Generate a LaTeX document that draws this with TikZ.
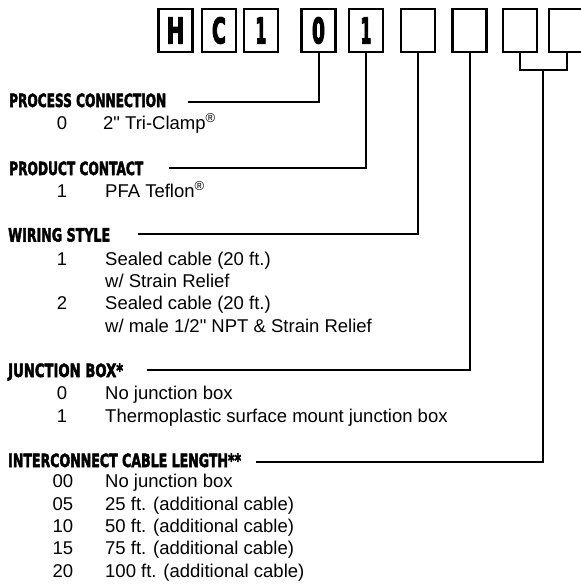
\documentclass[tikz,border=0pt]{standalone}
\usepackage{fontspec}
\usepackage{graphicx}
\setmainfont{Liberation Sans}
\newfontfamily\qfont{Liberation Sans}
\newfontfamily\headfont[FakeBold=3]{DejaVu Sans Bold}
\newfontfamily\boxfont[FakeBold=4]{DejaVu Sans Bold}
\newcommand{\hdrtxt}[2]{\resizebox{#1}{13.5pt}{\headfont #2}}
\newcommand{\boxtxt}[2]{\resizebox{#1}{26pt}{\boxfont #2}}
\newcommand{\qt}{{\qfont"}}
\begin{document}
\begin{tikzpicture}[x=1pt,y=-1pt,
  digitbox/.style={draw, line width=2.2pt, minimum width=34pt, minimum height=43pt, inner sep=0pt},
  conn/.style={line width=2pt},
  item/.style={anchor=base west, inner sep=0pt, font=\fontsize{18.5}{22}\selectfont},
  num/.style={anchor=base, inner sep=0pt, font=\fontsize{18.5}{22}\selectfont},
  hdr/.style={anchor=base west, inner sep=0pt}]
\useasboundingbox (0,0) rectangle (581,584);

% code boxes
\node[digitbox] (b1) at (175.5,30.5) {\boxtxt{18pt}{H}};
\node[digitbox] (b2) at (219,30.5) {\boxtxt{14pt}{C}};
\node[digitbox] (b3) at (261,30.5) {\boxtxt{11pt}{1}};
\node[digitbox] (b4) at (318.5,30.5) {\boxtxt{13pt}{0}};
\node[digitbox] (b5) at (366,30.5) {\boxtxt{11pt}{1}};
\node[digitbox] (b6) at (418,30.5) {};
\node[digitbox] (b7) at (469.5,30.5) {};
\node[digitbox] (b8) at (520,30.5) {};
\node[digitbox, minimum width=35pt] (b9) at (566.5,30.5) {};

% headers
\node[hdr] (h1) at (9,107) {\hdrtxt{157pt}{PROCESS CONNECTION}};
\node[hdr] (h2) at (9,175) {\hdrtxt{134pt}{PRODUCT CONTACT}};
\node[hdr] (h3) at (8,241.5) {\hdrtxt{102pt}{WIRING STYLE}};
\node[hdr] (h4) at (8,377) {\hdrtxt{115pt}{JUNCTION BOX*}};
\node[hdr] (h5) at (8,467) {\hdrtxt{233pt}{INTERCONNECT CABLE LENGTH**}};

% connector ends
\coordinate (e1) at (188,101.5);
\coordinate (e2) at (169,168);
\coordinate (e3) at (138,234);
\coordinate (e4) at (147,370);
\coordinate (e5) at (256,462);
\coordinate (brk) at (543,70);

\draw[conn] (b4.south) |- (e1);
\draw[conn] (b5.south) |- (e2);
\draw[conn] (b6.south) |- (e3);
\draw[conn] (b7.south) |- (e4);
\draw[conn] (b8.south) |- (brk) -| (b9.south);
\draw[conn] (brk) |- (e5);

% items
\node[num] (n1) at (62,129) {0};
\node[item] (t1) at (103,129) {2\qt{} Tri-Clamp\textsuperscript{®}};
\node[num] (n2) at (62,197) {1};
\node[item] (t2) at (105,197) {PFA Teflon\textsuperscript{®}};
\node[num] (n3) at (62,265) {1};
\node[item] (t3) at (105,265) {Sealed cable (20 ft.)};
\node[item] (t3b) at (105,287) {w/ Strain Relief};
\node[num] (n4) at (62,309) {2};
\node[item] (t4) at (105,309) {Sealed cable (20 ft.)};
\node[item] (t4b) at (105,332) {w/ male 1/2\qt{} NPT \& Strain Relief};
\node[num] (n5) at (62,399) {0};
\node[item] (t5) at (105,399) {No junction box};
\node[num] (n6) at (62,422) {1};
\node[item] (t6) at (105,422) {Thermoplastic surface mount junction box};
\node[num] (n7) at (63,487) {00};
\node[item] (t7) at (105,487) {No junction box};
\node[num] (n8) at (63,510) {05};
\node[item] (t8) at (105,510) {25 ft. (additional cable)};
\node[num] (n9) at (63,532) {10};
\node[item] (t9) at (105,532) {50 ft. (additional cable)};
\node[num] (n10) at (63,554) {15};
\node[item] (t10) at (105,554) {75 ft. (additional cable)};
\node[num] (n11) at (63,577) {20};
\node[item] (t11) at (105,577) {100 ft. (additional cable)};
\end{tikzpicture}
\end{document}
